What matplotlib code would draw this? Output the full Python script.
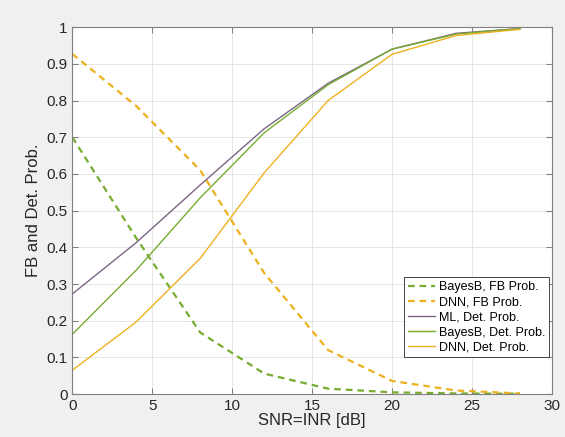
import matplotlib.pyplot as plt
import numpy as np

plt.rcParams['font.family'] = ['Liberation Sans', 'DejaVu Sans']

snr = [0, 4, 8, 12, 16, 20, 24, 28]

bayes_fb = [0.70, 0.425, 0.168, 0.056, 0.015, 0.005, 0.002, 0.001]
dnn_fb = [0.927, 0.785, 0.61, 0.33, 0.12, 0.036, 0.010, 0.002]
ml_det = [0.273, 0.413, 0.57, 0.723, 0.847, 0.94, 0.983, 0.996]
bayes_det = [0.163, 0.338, 0.535, 0.712, 0.843, 0.94, 0.981, 0.996]
dnn_det = [0.065, 0.197, 0.37, 0.603, 0.80, 0.926, 0.977, 0.994]

green = '#77AC30'
orange = '#EDB120'
purple = '#7d6585'

fig = plt.figure(figsize=(5.65, 4.37), dpi=100, facecolor='#f0f0f0')
ax = fig.add_axes([0.128, 0.098, 0.849, 0.84])

ax.plot(snr, bayes_fb, '--', color=green, lw=1.6, dashes=(3, 2.2), label='BayesB, FB Prob.')
ax.plot(snr, dnn_fb, '--', color=orange, lw=1.6, dashes=(3, 2.2), label='DNN, FB Prob.')
ax.plot(snr, ml_det, '-', color=purple, lw=1.0, label='ML, Det. Prob.')
ax.plot(snr, bayes_det, '-', color=green, lw=1.0, label='BayesB, Det. Prob.')
ax.plot(snr, dnn_det, '-', color=orange, lw=1.0, label='DNN, Det. Prob.')

ax.set_xlim(0, 30)
ax.set_ylim(0, 1)
ax.set_xticks(np.arange(0, 31, 5))
ax.set_yticks(np.arange(0, 1.01, 0.1))
ax.set_yticklabels(['0', '0.1', '0.2', '0.3', '0.4', '0.5', '0.6', '0.7', '0.8', '0.9', '1'])
ax.grid(True, color='#e6e6e6', lw=0.7)
ax.set_axisbelow(True)
for s in ax.spines.values():
    s.set_color('#808080')
    s.set_linewidth(0.8)
ax.tick_params(direction='in', top=True, right=True, colors='#808080',
               labelcolor='#262626', labelsize=11, length=4)
ax.set_xlabel('SNR=INR [dB]', fontsize=12, color='#262626', labelpad=0)
ax.set_ylabel('FB and Det. Prob.', fontsize=12, color='#262626', labelpad=4)

leg = ax.legend(loc='lower right', bbox_to_anchor=(0.994, 0.10), fontsize=9,
                fancybox=False, framealpha=1, edgecolor='#262626',
                handlelength=2.2, handletextpad=0.3, borderpad=0.3,
                labelspacing=0.25, borderaxespad=0)
leg.get_frame().set_linewidth(0.6)

fig.savefig('out.png', dpi=100, facecolor=fig.get_facecolor())
